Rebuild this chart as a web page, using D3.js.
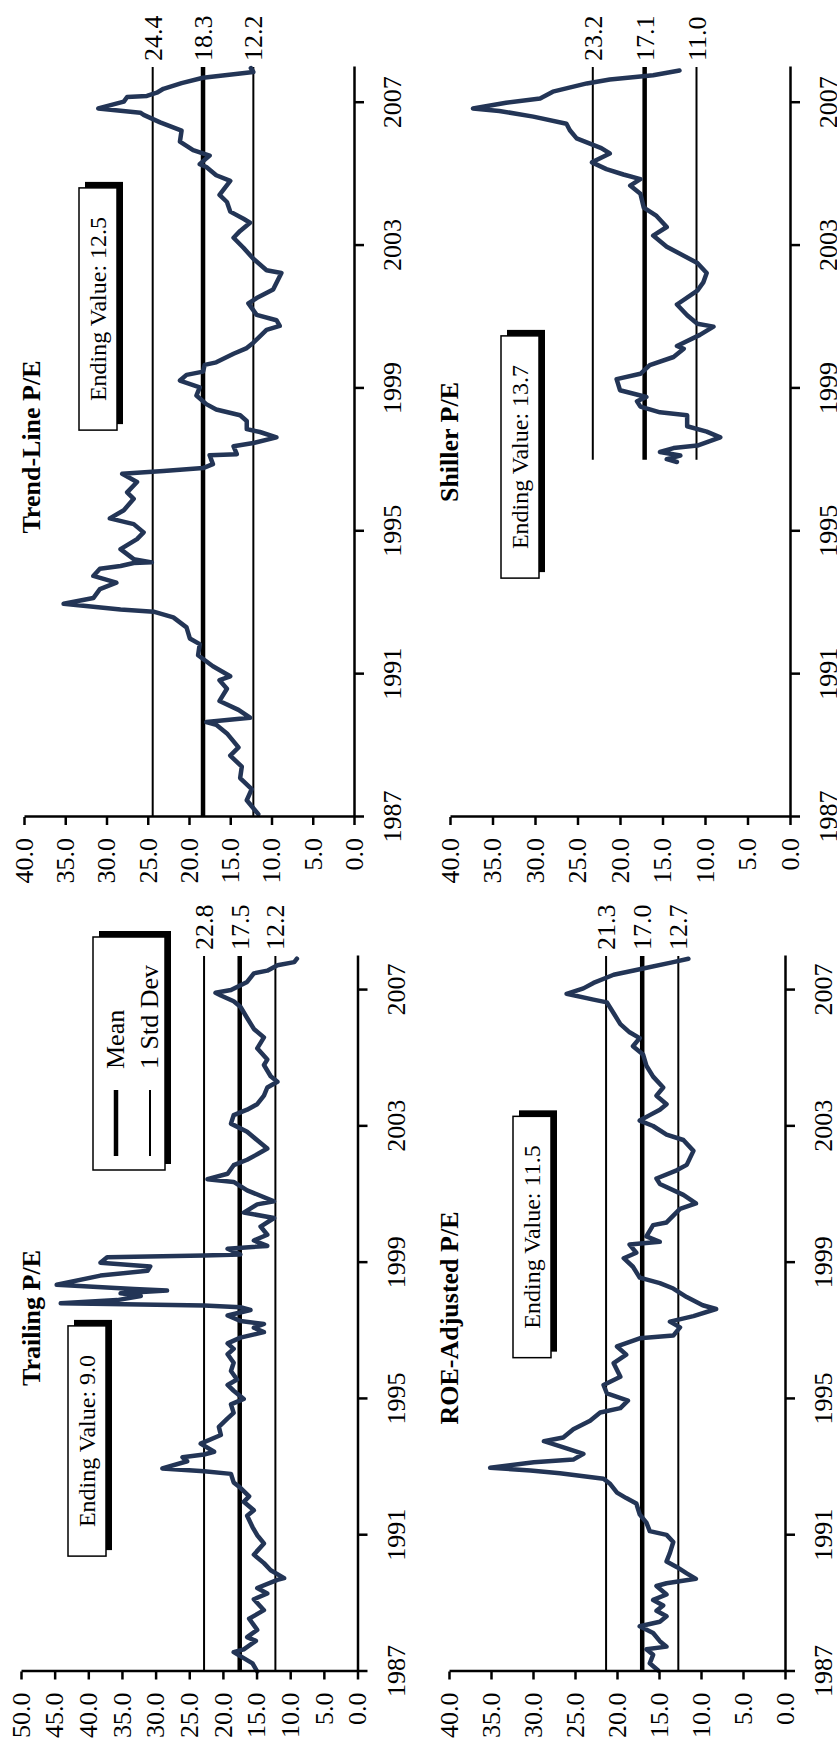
<!DOCTYPE html>
<html>
<head>
<meta charset="utf-8">
<script src="https://cdn.jsdelivr.net/npm/d3@7"></script>
<style>
  body { margin: 0; background: #fff; }
  svg { display: block; }
  text { font-family: "Liberation Serif", "Times New Roman", serif; fill: #000; }
</style>
</head>
<body>
<div id="chart"></div>
<script>
// ---- Data (decimal year, P/E) ----
const trailingYears = [1987.00,1987.24,1987.57,1987.65,1987.90,1988.01,1988.22,1988.55,1988.80,1989.12,1989.29,1989.45,1989.69,1989.74,1989.97,1990.18,1990.43,1990.76,1991.00,1991.24,1991.57,1991.73,1991.98,1992.14,1992.39,1992.55,1992.80,1992.88,1992.96,1993.17,1993.29,1993.37,1993.45,1993.69,1993.94,1994.18,1994.43,1994.59,1994.84,1995.00,1995.24,1995.41,1995.57,1995.82,1996.06,1996.31,1996.47,1996.63,1996.80,1996.96,1997.09,1997.20,1997.29,1997.45,1997.61,1997.69,1997.74,1997.81,1997.90,1998.02,1998.10,1998.18,1998.23,1998.35,1998.62,1998.76,1998.89,1999.00,1999.16,1999.21,1999.24,1999.41,1999.49,1999.65,1999.82,2000.06,2000.31,2000.47,2000.71,2000.80,2001.12,2001.37,2001.45,2001.61,2001.86,2002.02,2002.18,2002.35,2002.51,2002.84,2003.08,2003.33,2003.49,2003.65,2003.90,2004.14,2004.31,2004.47,2004.80,2004.96,2005.29,2005.61,2005.86,2006.18,2006.51,2006.67,2006.84,2006.92,2007.00,2007.24,2007.49,2007.57,2007.73,2007.82,2007.92]
const trailingValues = [14.9,15.6,18.4,16.9,15.1,16.4,14.9,16.1,13.9,15.4,13.4,14.9,11.9,10.9,12.9,13.9,15.4,13.9,14.9,15.6,16.4,15.4,16.9,16.1,17.4,18.4,18.8,22.8,29.0,25.3,26.0,22.8,21.3,23.3,20.3,20.6,19.3,18.4,18.8,16.9,18.4,19.3,17.9,18.8,18.4,19.3,18.4,19.3,17.4,13.9,15.4,13.9,17.4,19.3,15.9,17.4,22.8,44.1,35.7,32.2,35.2,28.3,33.2,44.7,38.2,31.2,30.8,38.2,37.2,22.8,17.4,19.3,13.4,15.4,13.4,14.4,12.4,16.9,14.9,12.4,16.4,18.4,22.3,19.3,18.4,16.4,14.9,13.4,14.4,16.4,18.8,18.4,16.4,14.9,13.9,13.4,11.9,12.9,13.9,13.4,14.9,13.9,15.4,16.4,17.4,18.4,20.3,21.1,18.8,16.4,15.4,13.4,11.9,9.4,9.0]
const trailingStats = [22.8, 17.5, 12.2]

const trendYears = [1987.08,1987.47,1987.78,1988.09,1988.41,1988.72,1988.95,1989.34,1989.58,1989.66,1989.78,1990.00,1990.25,1990.59,1990.83,1990.94,1991.22,1991.53,1991.84,1992.00,1992.31,1992.59,1992.75,1992.81,1992.97,1993.13,1993.38,1993.56,1993.75,1993.95,1994.03,1994.11,1994.13,1994.22,1994.50,1994.78,1994.97,1995.20,1995.36,1995.59,1995.91,1996.09,1996.38,1996.61,1996.69,1996.77,1996.88,1997.13,1997.16,1997.38,1997.47,1997.63,1997.78,1997.86,1998.09,1998.25,1998.41,1998.56,1998.80,1999.03,1999.22,1999.38,1999.47,1999.66,1999.73,1999.97,2000.13,2000.28,2000.64,2000.75,2000.91,2001.06,2001.38,2001.53,2001.77,2002.23,2002.31,2002.63,2002.94,2003.22,2003.41,2003.64,2003.75,2003.95,2004.22,2004.42,2004.81,2004.97,2005.20,2005.28,2005.52,2005.67,2005.91,2006.22,2006.45,2006.66,2006.72,2006.84,2007.03,2007.16,2007.19,2007.28,2007.39,2007.55,2007.70,2007.86,2007.97]
const trendValues = [11.6,13.0,12.4,13.8,13.6,15.0,14.0,15.4,16.7,17.9,12.6,14.0,16.3,15.4,16.3,15.0,17.1,18.9,18.7,19.9,20.3,21.9,24.3,28.3,35.2,31.6,30.8,28.8,31.6,30.8,28.3,26.7,24.5,26.7,28.3,26.3,25.5,26.7,29.6,27.9,26.7,27.5,26.3,28.1,23.1,18.3,17.1,17.5,14.2,14.6,12.2,9.4,11.4,13.0,13.0,13.8,16.7,17.9,19.1,18.7,21.1,20.3,18.3,18.1,16.7,14.6,13.0,12.2,10.6,9.0,9.4,11.8,12.8,11.8,9.8,8.8,10.6,12.2,13.4,14.6,13.8,12.6,13.4,15.0,15.4,16.3,15.0,16.7,17.9,18.7,17.5,19.5,21.1,20.9,23.5,25.5,25.9,31.0,27.9,27.5,25.1,23.9,23.1,20.9,18.3,12.2,12.5]
const trendStats = [24.4, 18.3, 12.2]

const roeYears = [1987.03,1987.24,1987.49,1987.65,1987.73,1987.89,1988.13,1988.33,1988.46,1988.62,1988.78,1988.94,1989.10,1989.26,1989.51,1989.59,1989.72,1989.88,1990.07,1990.23,1990.48,1990.80,1991.01,1991.12,1991.37,1991.61,1991.93,1992.09,1992.25,1992.50,1992.66,1992.82,1992.90,1992.98,1993.14,1993.22,1993.39,1993.55,1993.76,1993.87,1994.11,1994.36,1994.60,1994.73,1994.95,1995.16,1995.41,1995.65,1996.05,1996.30,1996.54,1996.78,1996.86,1997.10,1997.27,1997.43,1997.64,1997.75,1997.99,1998.24,1998.40,1998.56,1998.88,1999.13,1999.29,1999.53,1999.61,1999.77,2000.10,2000.18,2000.58,2000.74,2000.99,2001.31,2001.47,2001.71,2001.87,2002.28,2002.60,2002.76,2003.01,2003.17,2003.33,2003.49,2003.65,2003.90,2004.14,2004.46,2004.78,2005.11,2005.35,2005.59,2005.76,2006.00,2006.32,2006.64,2006.72,2006.89,2007.05,2007.21,2007.37,2007.45,2007.61,2007.82,2007.92]
const roeValues = [15.1,16.1,15.7,16.5,14.1,14.9,15.7,17.3,14.9,14.1,15.3,14.5,15.7,14.1,15.3,14.1,10.6,11.7,12.9,14.1,13.7,13.3,14.1,16.1,16.5,17.3,17.7,18.9,20.0,20.8,21.6,26.8,30.3,35.1,29.9,25.2,24.0,26.0,28.7,26.4,25.2,23.2,22.0,19.6,18.7,21.2,21.6,19.6,20.4,18.9,20.0,17.3,13.3,12.5,13.7,10.9,8.2,9.8,11.7,13.3,14.9,17.3,18.1,19.2,17.7,18.5,14.9,16.5,15.7,14.1,12.5,10.6,12.1,14.9,15.3,12.9,11.7,10.9,12.1,14.1,15.7,17.3,16.1,14.9,14.1,15.3,14.5,15.7,16.5,16.9,18.1,17.3,18.5,19.6,20.4,21.2,22.8,26.0,24.0,22.8,21.2,20.4,17.3,13.3,11.5]
const roeStats = [21.3, 17.0, 12.7]

const shillerYears = [1996.94,1997.02,1997.12,1997.22,1997.33,1997.40,1997.63,1997.79,1997.94,1998.25,1998.33,1998.49,1998.64,1998.76,1998.95,1999.26,1999.41,1999.65,1999.88,2000.11,2000.19,2000.50,2000.73,2000.81,2001.05,2001.35,2001.74,2001.97,2002.23,2002.51,2002.97,2003.28,2003.52,2003.83,2004.06,2004.45,2004.68,2004.86,2004.99,2005.14,2005.33,2005.58,2005.73,2006.00,2006.23,2006.41,2006.61,2006.77,2006.84,2007.00,2007.12,2007.31,2007.54,2007.65,2007.77,2007.90]
const shillerValues = [13.3,14.5,12.9,15.3,13.7,10.9,8.2,9.8,12.1,12.1,15.3,17.6,18.0,16.9,20.0,20.4,17.6,16.5,13.7,12.5,13.3,10.6,9.0,10.9,12.1,13.3,10.9,10.2,9.8,10.9,14.5,16.1,14.5,15.7,17.2,17.6,18.8,17.6,19.6,21.6,23.3,21.2,22.2,25.1,25.9,26.3,30.2,34.2,37.3,33.4,29.4,27.9,23.9,21.2,16.1,13.0]
const shillerStats = [23.2, 17.1, 11.0]

const yearTicks = [1987, 1991, 1995, 1999, 2003, 2007]

// ---- Layout: drawn as a landscape page, then turned a quarter left ----
const pageW = 1742
const svg = d3.select("#chart")
    .append("svg")
        .attr("width", 837)
        .attr("height", 1742)
const page = svg.append("g")
    .attr("transform", `translate(0,${pageW}) rotate(-90)`)

const panels = [
    { title: "Trailing P/E", years: trailingYears, values: trailingValues, stats: trailingStats,
      from: 1987, ending: "9.0", yMax: 50, left: 70.5, right: 786, bottom: 357.5, top: 21,
      titleX: 424, titleY: 40, box: [301, 87], legend: true },
    { title: "Trend-Line P/E", years: trendYears, values: trendValues, stats: trendStats,
      from: 1987, ending: "12.5", yMax: 40, left: 925, right: 1675, bottom: 354, top: 24,
      titleX: 1295, titleY: 40, box: [1433, 98] },
    { title: "ROE-Adjusted P/E", years: roeYears, values: roeValues, stats: roeStats,
      from: 1987, ending: "11.5", yMax: 40, left: 70.5, right: 786, bottom: 785, top: 449,
      titleX: 424, titleY: 458, box: [505, 532] },
    { title: "Shiller P/E", years: shillerYears, values: shillerValues, stats: shillerStats,
      from: 1997, ending: "13.7", yMax: 40, left: 925, right: 1675, bottom: 790, top: 450,
      titleX: 1300, titleY: 458, box: [1285, 520] },
]

const lineColor = "#233556"
const fmt = d3.format(".1f")

function shadowBox(g, x, y, w, h) {
    g.append("rect")
        .attr("x", x + 6).attr("y", y + 6)
        .attr("width", w).attr("height", h)
        .attr("fill", "#000")
    g.append("rect")
        .attr("x", x).attr("y", y)
        .attr("width", w).attr("height", h)
        .attr("fill", "#fff")
        .attr("stroke", "#000")
        .attr("stroke-width", 1.5)
}

function drawPanel(p) {
    const g = page.append("g")
    const xScale = d3.scaleLinear().domain([1987, 2008]).range([p.left, p.right])
    const yScale = d3.scaleLinear().domain([0, p.yMax]).range([p.bottom, p.top])

  // mean and 1 std dev lines
    p.stats.forEach((v, i) => {
        g.append("line")
            .attr("x1", xScale(p.from)).attr("x2", xScale(2008))
            .attr("y1", yScale(v)).attr("y2", yScale(v))
            .attr("stroke", "#000")
            .attr("stroke-width", i == 1 ? 4.5 : 2)
        g.append("text")
            .attr("x", xScale(2008) + 6)
            .attr("y", yScale(v))
            .attr("dy", "0.35em")
            .style("font-size", "26px")
            .text(fmt(v))
    })

  // the series
    const lineGenerator = d3.line()
        .x(d => xScale(d[0]))
        .y(d => yScale(d[1]))
    g.append("path")
        .datum(d3.zip(p.years, p.values))
        .attr("d", lineGenerator)
        .attr("fill", "none")
        .attr("stroke", lineColor)
        .attr("stroke-width", 4.5)
        .attr("stroke-linejoin", "round")
        .attr("stroke-linecap", "round")

  // axes
    const yAxis = g.append("g")
        .attr("transform", `translate(${p.left},0)`)
        .call(d3.axisLeft(yScale)
            .tickValues(d3.range(0, p.yMax + 1, 5))
            .tickFormat(fmt)
            .tickSize(8)
            .tickPadding(13)
            .tickSizeOuter(0))
    const xAxis = g.append("g")
        .attr("transform", `translate(0,${p.bottom})`)
        .call(d3.axisBottom(xScale)
            .tickValues(yearTicks)
            .tickFormat(d3.format("d"))
            .tickSize(10)
            .tickPadding(19)
            .tickSizeOuter(0))
    ;[yAxis, xAxis].forEach(a => {
        a.attr("font-family", null).attr("font-size", null)
        a.selectAll("path, line").attr("stroke", "#000").attr("stroke-width", 2.5)
        a.selectAll("text").style("font-size", "26px").attr("fill", "#000")
    })

  // title
    g.append("text")
        .attr("x", p.titleX)
        .attr("y", p.titleY)
        .attr("text-anchor", "middle")
        .style("font-size", "26px")
        .style("font-weight", "bold")
        .text(p.title)

  // ending value box
    const boxG = g.append("g")
    const label = boxG.append("text")
        .attr("x", p.box[0])
        .attr("y", p.box[1])
        .attr("dy", "0.35em")
        .attr("text-anchor", "middle")
        .style("font-size", "24px")
        .text("Ending Value: " + p.ending)
    const tw = label.node().getComputedTextLength()
    const bw = tw + 58, bh = 38
    label.remove()
    shadowBox(boxG, p.box[0] - bw / 2, p.box[1] - bh / 2, bw, bh)
    boxG.node().appendChild(label.node())

  // legend
    if (p.legend) {
        const lg = g.append("g")
        shadowBox(lg, 572, 93, 233, 72)
        const items = [["Mean", 4.5, 116], ["1 Std Dev", 2, 150]]
        items.forEach(([name, sw, ly]) => {
            lg.append("line")
                .attr("x1", 586).attr("x2", 652)
                .attr("y1", ly).attr("y2", ly)
                .attr("stroke", "#000")
                .attr("stroke-width", sw)
            lg.append("text")
                .attr("x", 673)
                .attr("y", ly)
                .attr("dy", "0.3em")
                .style("font-size", "26px")
                .text(name)
        })
    }
}

panels.forEach(drawPanel)
</script>
</body>
</html>
